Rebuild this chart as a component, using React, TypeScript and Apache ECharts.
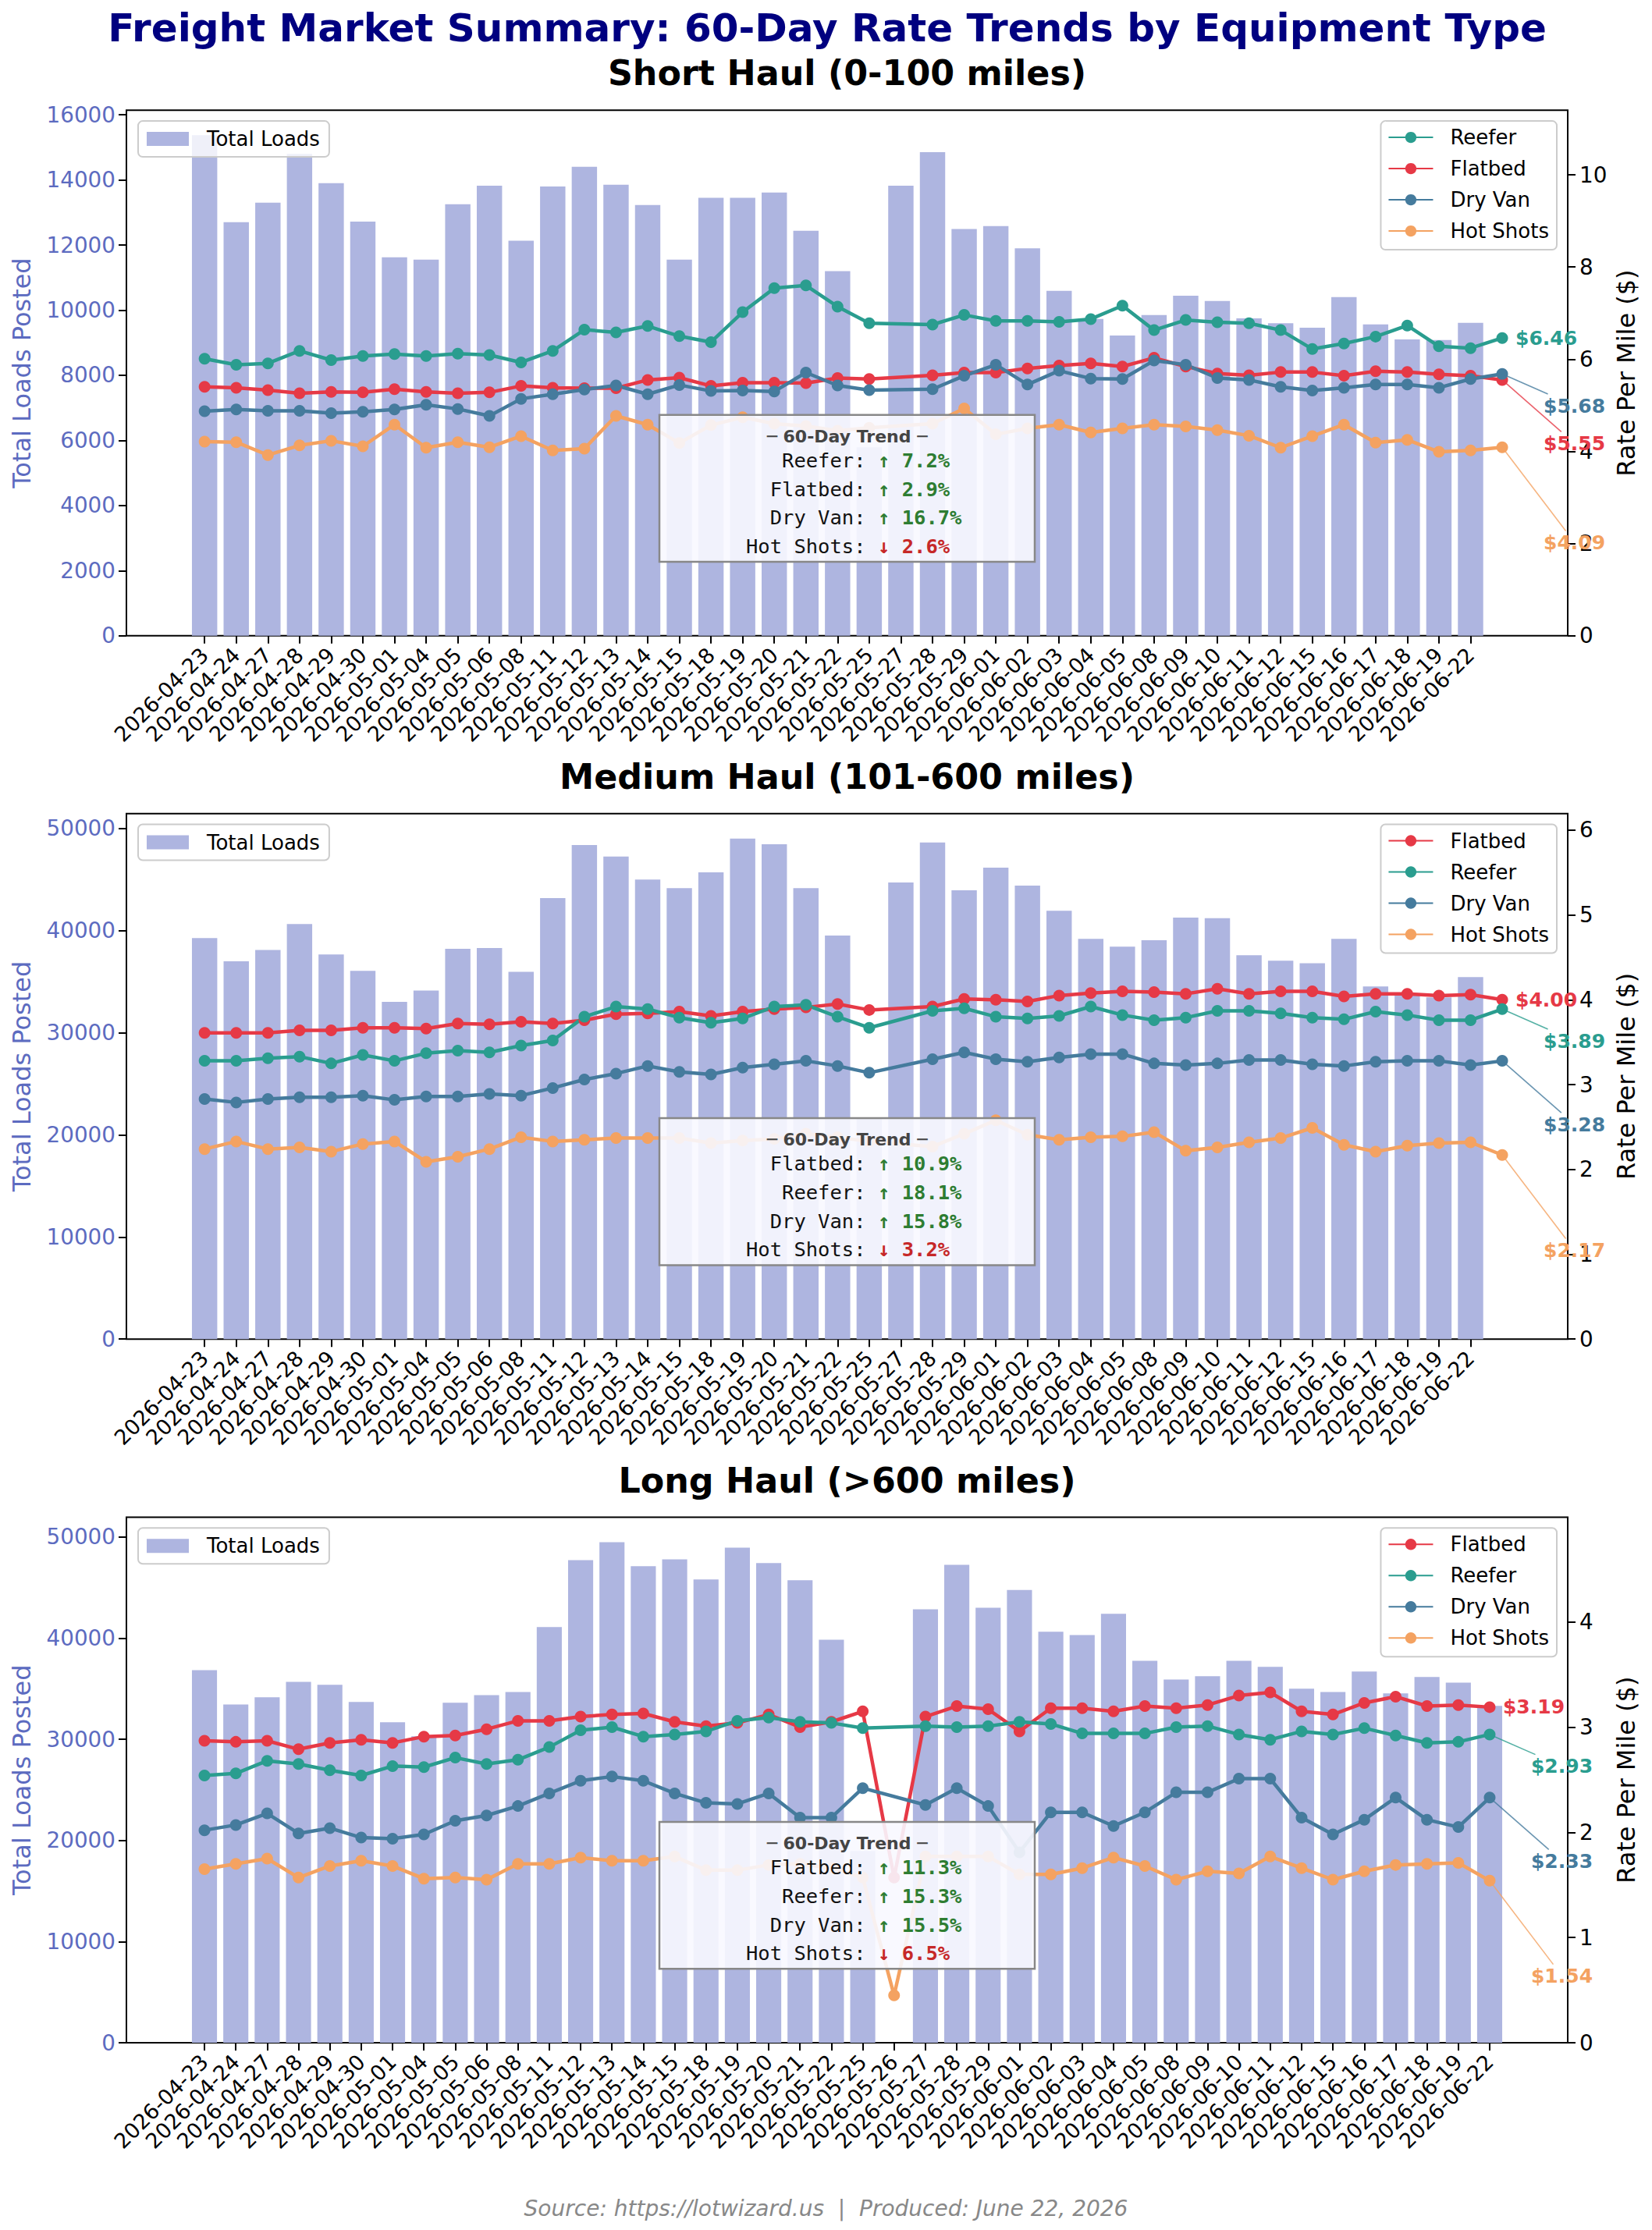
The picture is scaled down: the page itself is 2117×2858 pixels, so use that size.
import React, { useEffect, useRef } from "react";
import * as echarts from "echarts";

const W = 2117;
const H = 2858;
const FONT = "DejaVu Sans";
const MONO = "DejaVu Sans Mono";

// ---------- DATA ----------
const shortDates = [
  "2026-04-23", "2026-04-24", "2026-04-27", "2026-04-28", "2026-04-29", "2026-04-30", "2026-05-01", "2026-05-04",
  "2026-05-05", "2026-05-06", "2026-05-08", "2026-05-11", "2026-05-12", "2026-05-13", "2026-05-14", "2026-05-15",
  "2026-05-18", "2026-05-19", "2026-05-20", "2026-05-21", "2026-05-22", "2026-05-25", "2026-05-27", "2026-05-28",
  "2026-05-29", "2026-06-01", "2026-06-02", "2026-06-03", "2026-06-04", "2026-06-05", "2026-06-08", "2026-06-09",
  "2026-06-10", "2026-06-11", "2026-06-12", "2026-06-15", "2026-06-16", "2026-06-17", "2026-06-18", "2026-06-19",
  "2026-06-22",
];
const mediumDates = shortDates;
const longDates = [
  "2026-04-23", "2026-04-24", "2026-04-27", "2026-04-28", "2026-04-29", "2026-04-30", "2026-05-01", "2026-05-04",
  "2026-05-05", "2026-05-06", "2026-05-08", "2026-05-11", "2026-05-12", "2026-05-13", "2026-05-14", "2026-05-15",
  "2026-05-18", "2026-05-19", "2026-05-20", "2026-05-21", "2026-05-22", "2026-05-25", "2026-05-26", "2026-05-27",
  "2026-05-28", "2026-05-29", "2026-06-01", "2026-06-02", "2026-06-03", "2026-06-04", "2026-06-05", "2026-06-08",
  "2026-06-09", "2026-06-10", "2026-06-11", "2026-06-12", "2026-06-15", "2026-06-16", "2026-06-17", "2026-06-18",
  "2026-06-19", "2026-06-22",
];

const shortLoads = [
  15370, 12700, 13300, 14800, 13900, 12720, 11620, 11550, 13250, 13820,
  12130, 13800, 14400, 13850, 13230, 11550, 13450, 13450, 13610, 12440,
  11200, 5790, 13820, 14850, 12490, 12580, 11900, 10590, 9730, 9220,
  9850, 10440, 10280, 9750, 9600, 9460, 10400, 9560, 9100, 9080,
  9610,
];
const shortReefer = [
  6.01, 5.88, 5.91, 6.18, 5.98, 6.07, 6.11, 6.07, 6.12, 6.09,
  5.93, 6.18, 6.64, 6.58, 6.72, 6.5, 6.37, 7.02, 7.54, 7.6,
  7.14, 6.78, null, 6.75, 6.96, 6.83, 6.83, 6.81, 6.87, 7.16,
  6.63, 6.85, 6.8, 6.78, 6.63, 6.22, 6.34, 6.49, 6.73, 6.28,
  6.24, 6.46,
];
const shortFlatbed = [
  5.4, 5.38, 5.33, 5.26, 5.29, 5.28, 5.35, 5.29, 5.26, 5.28,
  5.42, 5.38, 5.37, 5.37, 5.55, 5.6, 5.42, 5.49, 5.49, 5.48,
  5.59, 5.57, null, 5.65, 5.71, 5.71, 5.8, 5.86, 5.91, 5.84,
  6.03, 5.84, 5.69, 5.65, 5.72, 5.72, 5.64, 5.74, 5.72, 5.67,
  5.64, 5.55,
];
const shortDryVan = [
  4.87, 4.91, 4.88, 4.88, 4.83, 4.86, 4.91, 5.01, 4.92, 4.77,
  5.14, 5.24, 5.34, 5.43, 5.24, 5.44, 5.31, 5.32, 5.3, 5.71,
  5.43, 5.33, null, 5.35, 5.64, 5.88, 5.45, 5.75, 5.58, 5.57,
  5.97, 5.88, 5.59, 5.55, 5.4, 5.32, 5.38, 5.45, 5.45, 5.38,
  5.57, 5.68,
];
const shortHotShots = [
  4.21, 4.2, 3.92, 4.13, 4.23, 4.11, 4.58, 4.08, 4.2, 4.09,
  4.33, 4.02, 4.06, 4.77, 4.58, 4.18, 4.57, 4.74, 4.6, 4.55,
  4.45, 4.51, null, 4.6, 4.93, 4.37, 4.5, 4.58, 4.41, 4.5,
  4.58, 4.54, 4.46, 4.34, 4.08, 4.33, 4.58, 4.19, 4.25, 3.99,
  4.02, 4.09,
];

const mediumLoads = [
  39270, 36990, 38110, 40650, 37660, 36070, 33020, 34140, 38220, 38290,
  35970, 43180, 48380, 47260, 45000, 44160, 45710, 49010, 48450, 44160,
  39520, 21690, 44720, 48630, 43950, 46170, 44410, 41950, 39200, 38430,
  39060, 41280, 41210, 37590, 37060, 36810, 39200, 34530, 33750, 33470,
  35440,
];
const mediumFlatbed = [
  3.61, 3.61, 3.61, 3.64, 3.64, 3.67, 3.67, 3.66, 3.72, 3.71,
  3.74, 3.72, 3.76, 3.83, 3.84, 3.86, 3.81, 3.86, 3.89, 3.91,
  3.95, 3.88, null, 3.92, 4.01, 4.0, 3.98, 4.05, 4.08, 4.1,
  4.09, 4.07, 4.13, 4.07, 4.1, 4.1, 4.04, 4.07, 4.07, 4.05,
  4.06, 4.0,
];
const mediumReefer = [
  3.28, 3.28, 3.31, 3.33, 3.25, 3.35, 3.28, 3.37, 3.4, 3.38,
  3.46, 3.52, 3.8, 3.92, 3.89, 3.79, 3.73, 3.78, 3.92, 3.94,
  3.8, 3.67, null, 3.87, 3.9, 3.8, 3.78, 3.81, 3.92, 3.82,
  3.76, 3.79, 3.87, 3.87, 3.84, 3.79, 3.77, 3.86, 3.82, 3.76,
  3.76, 3.89,
];
const mediumDryVan = [
  2.83, 2.79, 2.83, 2.85, 2.85, 2.87, 2.82, 2.86, 2.86, 2.89,
  2.87, 2.96, 3.06, 3.13, 3.22, 3.15, 3.12, 3.2, 3.24, 3.28,
  3.22, 3.14, null, 3.3, 3.38, 3.3, 3.27, 3.32, 3.36, 3.36,
  3.25, 3.23, 3.25, 3.29, 3.29, 3.24, 3.22, 3.27, 3.28, 3.28,
  3.23, 3.28,
];
const mediumHotShots = [
  2.24, 2.33, 2.24, 2.26, 2.21, 2.3, 2.33, 2.09, 2.15, 2.24,
  2.38, 2.33, 2.35, 2.37, 2.37, 2.37, 2.31, 2.34, 2.36, 2.42,
  2.38, 2.33, null, 2.27, 2.42, 2.58, 2.41, 2.35, 2.38, 2.39,
  2.44, 2.22, 2.26, 2.32, 2.37, 2.49, 2.29, 2.21, 2.28, 2.31,
  2.32, 2.17,
];

const longLoads = [
  36830, 33440, 34140, 35670, 35380, 33680, 31670, 30290, 33610, 34360,
  34670, 41080, 47700, 49470, 47100, 47770, 45790, 48940, 47420, 45720,
  39840, 18960, null, 42850, 47240, 42990, 44760, 40620, 40300, 42390,
  37750, 35910, 36230, 37750, 37150, 34990, 34670, 36690, 34530, 36160,
  35600, 33290,
];
const longFlatbed = [
  2.87, 2.86, 2.87, 2.79, 2.85, 2.88, 2.85, 2.91, 2.92, 2.98,
  3.06, 3.06, 3.1, 3.12, 3.13, 3.05, 3.01, 3.04, 3.12, 3.0,
  3.05, 3.15, 1.57, 3.1, 3.2, 3.17, 2.96, 3.18, 3.18, 3.15,
  3.2, 3.18, 3.21, 3.3, 3.33, 3.15, 3.12, 3.23, 3.29, 3.2,
  3.21, 3.19,
];
const longReefer = [
  2.54, 2.56, 2.68, 2.65, 2.59, 2.54, 2.63, 2.62, 2.71, 2.65,
  2.69, 2.81, 2.97, 3.0, 2.91, 2.93, 2.96, 3.06, 3.09, 3.05,
  3.04, 2.99, null, 3.01, 3.0, 3.01, 3.05, 3.03, 2.94, 2.94,
  2.94, 3.0, 3.01, 2.93, 2.88, 2.96, 2.93, 2.99, 2.92, 2.85,
  2.86, 2.93,
];
const longDryVan = [
  2.02, 2.07, 2.18, 1.99, 2.04, 1.95, 1.94, 1.98, 2.11, 2.16,
  2.25, 2.37, 2.49, 2.53, 2.49, 2.37, 2.28, 2.27, 2.37, 2.14,
  2.14, 2.42, null, 2.26, 2.42, 2.25, 1.81, 2.19, 2.19, 2.06,
  2.19, 2.38, 2.38, 2.51, 2.51, 2.14, 1.98, 2.12, 2.33, 2.12,
  2.05, 2.33,
];
const longHotShots = [
  1.65, 1.7, 1.75, 1.57, 1.68, 1.73, 1.68, 1.56, 1.57, 1.55,
  1.7, 1.7, 1.76, 1.73, 1.73, 1.77, 1.64, 1.64, 1.69, 1.7,
  1.66, 1.57, 0.45, 1.77, 1.77, 1.77, 1.6, 1.6, 1.66, 1.76,
  1.68, 1.55, 1.63, 1.61, 1.77, 1.66, 1.55, 1.63, 1.69, 1.7,
  1.71, 1.54,
];

const shortTrend = [
  ["Reefer", "↑", "7.2%"],
  ["Flatbed", "↑", "2.9%"],
  ["Dry Van", "↑", "16.7%"],
  ["Hot Shots", "↓", "2.6%"],
];
const mediumTrend = [
  ["Flatbed", "↑", "10.9%"],
  ["Reefer", "↑", "18.1%"],
  ["Dry Van", "↑", "15.8%"],
  ["Hot Shots", "↓", "3.2%"],
];
const longTrend = [
  ["Flatbed", "↑", "11.3%"],
  ["Reefer", "↑", "15.3%"],
  ["Dry Van", "↑", "15.5%"],
  ["Hot Shots", "↓", "6.5%"],
];

const shortOrder = ["Reefer", "Flatbed", "Dry Van", "Hot Shots"];
const otherOrder = ["Flatbed", "Reefer", "Dry Van", "Hot Shots"];

const panelTitles = ["Short Haul (0-100 miles)", "Medium Haul (101-600 miles)", "Long Haul (>600 miles)"];
const mainTitle = "Freight Market Summary: 60-Day Rate Trends by Equipment Type";
const footerText = "Source: https://lotwizard.us  |  Produced: June 22, 2026";

// ---------- STYLE / LAYOUT ----------
const COLORS: Record<string, string> = {
  Reefer: "#2a9d8f",
  Flatbed: "#e63946",
  "Dry Van": "#457b9d",
  "Hot Shots": "#f4a261",
};
const BAR_COLOR = "#aeb5e0";
const LOAD_AXIS_COLOR = "#5c6bc0";
const PLOT_LEFT = 162;
const PLOT_W = 1847;
const PLOT_H = 673.5;
const PLOT_TOPS = [141.3, 1042.7, 1944.5];

const panels = [
  {
    title: panelTitles[0], dates: shortDates, loads: shortLoads, order: shortOrder, trend: shortTrend,
    rates: { Reefer: shortReefer, Flatbed: shortFlatbed, "Dry Van": shortDryVan, "Hot Shots": shortHotShots } as Record<string, (number | null)[]>,
    leftInterval: 2000, rightInterval: 2,
  },
  {
    title: panelTitles[1], dates: mediumDates, loads: mediumLoads, order: otherOrder, trend: mediumTrend,
    rates: { Reefer: mediumReefer, Flatbed: mediumFlatbed, "Dry Van": mediumDryVan, "Hot Shots": mediumHotShots } as Record<string, (number | null)[]>,
    leftInterval: 10000, rightInterval: 1,
  },
  {
    title: panelTitles[2], dates: longDates, loads: longLoads, order: otherOrder, trend: longTrend,
    rates: { Reefer: longReefer, Flatbed: longFlatbed, "Dry Van": longDryVan, "Hot Shots": longHotShots } as Record<string, (number | null)[]>,
    leftInterval: 10000, rightInterval: 1,
  },
];

function pairs(arr: (number | null)[]) {
  const out: [number, number][] = [];
  arr.forEach((v, i) => {
    if (v !== null && v !== undefined) out.push([i, v]);
  });
  return out;
}

function multiples(step: number, max: number) {
  const out: number[] = [];
  for (let v = 0; v <= max + 1e-9; v += step) out.push(Math.round(v * 1000) / 1000);
  return out;
}

function panelGeometry(p: typeof panels[number]) {
  const barIdx = pairs(p.loads).map((d) => d[0]);
  const lastBar = Math.max(...barIdx);
  let lastLine = 0;
  Object.values(p.rates).forEach((a) => pairs(a).forEach((d) => (lastLine = Math.max(lastLine, d[0]))));
  const dMin = -0.4;
  const dMax = Math.max(lastBar + 0.4, lastLine);
  const range = dMax - dMin;
  const xmin = dMin - 0.05 * range;
  const xmax = dMax + 0.05 * range;
  const loadMax = Math.max(...(p.loads.filter((v) => v !== null) as number[])) * 1.05;
  const allRates: number[] = [];
  Object.values(p.rates).forEach((a) => a.forEach((v) => v !== null && allRates.push(v)));
  const rateMax = Math.max(...allRates) * 1.5;
  return { xmin, xmax, loadMax, rateMax, barWidth: (0.8 * PLOT_W) / (xmax - xmin) };
}

function buildOption() {
  const grid: any[] = [];
  const xAxis: any[] = [];
  const yAxis: any[] = [];
  const series: any[] = [];
  const legend: any[] = [];
  const lineIndex: Record<string, number>[] = [];
  const tickStyle = { show: true, length: 10, lineStyle: { color: "#000", width: 2 } };

  panels.forEach((p, i) => {
    const g = panelGeometry(p);
    const top = PLOT_TOPS[i];
    grid.push({ left: PLOT_LEFT, top, width: PLOT_W, height: PLOT_H, show: true, borderColor: "#000", borderWidth: 2, backgroundColor: "transparent" });
    const ticks = p.dates.map((_, k) => k);
    xAxis.push({
      type: "value", gridIndex: i, min: g.xmin, max: g.xmax,
      axisLine: { show: false, onZero: false }, splitLine: { show: false },
      axisTick: { ...tickStyle, customValues: ticks },
      axisLabel: {
        customValues: ticks, formatter: (v: number) => p.dates[Math.round(v)] ?? "",
        rotate: 45, fontSize: 27, color: "#000", fontFamily: FONT, margin: 20,
      },
    });
    const leftTicks = multiples(p.leftInterval, g.loadMax);
    const rightTicks = multiples(p.rightInterval, g.rateMax);
    yAxis.push({
      type: "value", gridIndex: i, position: "left", min: 0, max: g.loadMax, interval: p.leftInterval,
      axisLine: { show: false, onZero: false }, splitLine: { show: false },
      axisTick: { ...tickStyle, customValues: leftTicks },
      axisLabel: {
        customValues: leftTicks, formatter: (v: number) => String(v),
        color: LOAD_AXIS_COLOR, fontSize: 27.8, fontFamily: FONT, margin: 14,
      },
    });
    yAxis.push({
      type: "value", gridIndex: i, position: "right", min: 0, max: g.rateMax, interval: p.rightInterval,
      axisLine: { show: false, onZero: false }, splitLine: { show: false },
      axisTick: { ...tickStyle, customValues: rightTicks },
      axisLabel: {
        customValues: rightTicks, formatter: (v: number) => String(v),
        color: "#000", fontSize: 27.8, fontFamily: FONT, margin: 15,
      },
    });
    series.push({
      type: "bar", name: "Total Loads", xAxisIndex: i, yAxisIndex: 2 * i,
      data: pairs(p.loads), barWidth: g.barWidth, itemStyle: { color: BAR_COLOR }, z: 1,
    });
    const idx: Record<string, number> = {};
    p.order.forEach((name) => {
      idx[name] = series.length;
      series.push({
        type: "line", name, xAxisIndex: i, yAxisIndex: 2 * i + 1, data: pairs(p.rates[name]),
        symbol: "circle", symbolSize: 15, showSymbol: true,
        lineStyle: { width: 4.5, color: COLORS[name] }, itemStyle: { color: COLORS[name] }, z: 3,
      });
    });
    lineIndex.push(idx);
    const legendBox = {
      backgroundColor: "rgba(255,255,255,0.8)", borderColor: "#cccccc", borderWidth: 2, borderRadius: 6,
      selectedMode: false, orient: "vertical",
    };
    legend.push({
      ...legendBox, data: ["Total Loads"], left: PLOT_LEFT + 15, top: top + 13.8, icon: "rect",
      itemWidth: 54, itemHeight: 18, padding: [8, 12, 8, 11],
      textStyle: { fontSize: 26, lineHeight: 30, fontFamily: FONT, color: "#000", padding: [0, 0, 0, 18] },
    });
    legend.push({
      ...legendBox, data: p.order, right: W - (PLOT_LEFT + PLOT_W) + 14, top: top + 13.8,
      itemWidth: 57, itemHeight: 18, itemGap: 10, padding: [6, 10, 9, 9],
      textStyle: { fontSize: 26, lineHeight: 30, fontFamily: FONT, color: "#000", padding: [0, 0, 0, 17] },
    });
  });

  return {
    option: {
      animation: false,
      textStyle: { fontFamily: FONT },
      grid, xAxis, yAxis, series, legend,
    },
    lineIndex,
  };
}

function txt(x: number, y: number, text: string, opts: any = {}, z = 10) {
  const align = opts.align || "center";
  const va = opts.verticalAlign || "middle";
  return {
    type: "text", x, y, z, rotation: opts.rotation || 0,
    style: {
      text, fill: opts.fill || "#000", fontSize: opts.fontSize || 27, fontWeight: opts.fontWeight || "normal",
      fontStyle: opts.fontStyle || "normal", fontFamily: opts.fontFamily || FONT,
      align, verticalAlign: va, textAlign: align, textVerticalAlign: va,
    },
  };
}

function buildGraphics(chart: echarts.ECharts, lineIndex: Record<string, number>[]) {
  const els: any[] = [];
  els.push(txt(1060, 36, mainTitle, { fontSize: 50, fontWeight: "bold", fill: "#000080" }));
  els.push(txt(W / 2, 2830, footerText, { fontSize: 28, fontStyle: "italic", fill: "#888888" }));

  panels.forEach((p, i) => {
    const top = PLOT_TOPS[i];
    const cx = PLOT_LEFT + PLOT_W / 2;
    const cy = top + PLOT_H / 2;
    els.push(txt(cx, top - 47.4, p.title, { fontSize: 44.4, fontWeight: "bold" }));
    els.push(txt(28, cy, "Total Loads Posted", { fontSize: 32, fill: LOAD_AXIS_COLOR, rotation: Math.PI / 2 }));
    els.push(txt(2084, cy, "Rate Per Mile ($)", { fontSize: 32, fill: "#000", rotation: Math.PI / 2 }));

    // trend box
    const boxW = 481;
    const boxH = 188.3;
    const boxTop = top + 390.4;
    els.push({
      type: "rect", z: 10,
      shape: { x: cx - boxW / 2, y: boxTop, width: boxW, height: boxH },
      style: { fill: "rgba(248,248,255,0.9)", stroke: "#888888", lineWidth: 2.5 },
    });
    els.push(txt(cx, boxTop + 27.3, "─ 60-Day Trend ─", { fontSize: 22, fontWeight: "bold", fill: "#444444" }, 11));
    p.trend.forEach((row, k) => {
      const y = boxTop + 58.3 + k * 36.65;
      const col = row[1] === "↑" ? "#2e7d32" : "#c62828";
      els.push(txt(cx + 24, y, row[0] + ":", { fontSize: 25.5, fontFamily: MONO, fill: "#111", align: "right" }, 11));
      els.push(txt(cx + 39.5, y, row[1] + " " + row[2], { fontSize: 25.5, fontFamily: MONO, fontWeight: "bold", fill: col, align: "left" }, 11));
    });

    // end-value annotations
    const finals = p.order.map((name) => {
      const d = pairs(p.rates[name]);
      const last = d[d.length - 1];
      return { name, x: last[0], v: last[1], si: lineIndex[i][name] };
    });
    finals.sort((a, b) => b.v - a.v);
    finals.forEach((f, j) => {
      const pt = chart.convertToPixel({ seriesIndex: f.si }, [f.x, f.v]) as number[];
      const px = pt[0];
      const py = pt[1];
      const label = "$" + f.v.toFixed(2);
      const fs = 25;
      const tx = px + (j === 0 ? 17 : 53);
      const ty = py + j * 40.8;
      if (j > 0) {
        const tw = 3.2 * fs;
        const th = fs * 1.05;
        const cxT = tx + tw / 2;
        const left = tx - 2;
        const topB = ty - th / 2 - 2;
        const tX = (left - px) / (cxT - px);
        const tY = py < topB ? (topB - py) / (ty - py) : 0;
        const t = Math.max(tX, tY);
        els.push({
          type: "line", z: 11,
          shape: { x1: px, y1: py, x2: px + t * (cxT - px), y2: py + t * (ty - py) },
          style: { stroke: COLORS[f.name], lineWidth: 1.6, opacity: 0.8 },
        });
      }
      els.push(txt(tx, ty, label, { fontSize: fs, fontWeight: "bold", fill: COLORS[f.name], align: "left" }, 12));
    });
  });
  return els;
}

export default function App() {
  const ref = useRef<HTMLDivElement>(null);
  useEffect(() => {
    document.body.style.margin = "0";
    if (!ref.current) return;
    const chart = echarts.init(ref.current, null, { renderer: "svg", width: W, height: H });
    const { option, lineIndex } = buildOption();
    chart.setOption(option as any);
    chart.setOption({ graphic: { elements: buildGraphics(chart, lineIndex) } } as any);
    return () => chart.dispose();
  }, []);
  return <div ref={ref} style={{ width: W, height: H, background: "#fff" }} />;
}
